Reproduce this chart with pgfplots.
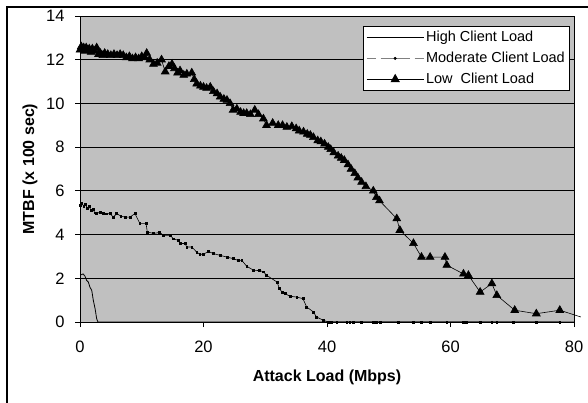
\documentclass[border=0pt]{standalone}
\usepackage{pgfplots}
\pgfplotsset{compat=1.18}
\usepackage{fontspec}
\setmainfont{Liberation Sans}
\definecolor{plotbg}{HTML}{C0C0C0}
\pgfplotsset{
  legHigh/.style={legend image code/.code={\draw[black, line width=0.8pt] (0pt,0pt) -- (57pt,0pt);}},
  legMod/.style={legend image code/.code={\draw[gray, line width=0.8pt, dash pattern=on 9pt off 5pt] (0pt,0pt) -- (23pt,0pt); \draw[gray, line width=0.8pt, dash pattern=on 9pt off 5pt] (34pt,0pt) -- (57pt,0pt); \draw[gray, line width=0.8pt] (23pt,0pt)--(34pt,0pt); \fill[black] (28.5pt,0pt) circle (1.2pt);}},
  legLow/.style={legend image code/.code={\draw[black, line width=0.8pt] (0pt,0pt) -- (57pt,0pt); \fill[black] (24.3pt,-2.5pt) -- (32.7pt,-2.5pt) -- (28.5pt,5pt) -- cycle;}},
}
\begin{document}
\begin{tikzpicture}
\path[use as bounding box] (0pt,0pt) rectangle (588pt,-402pt);
\draw[line width=2.5pt] (7pt,-420pt) -- (7pt,-7pt) -- (620pt,-7pt);
\begin{axis}[
  at={(80pt,-16pt)}, anchor=north west,
  scale only axis, width=494pt, height=306pt,
  xmin=0, xmax=80, ymin=0, ymax=14,
  clip=false,
  axis background/.style={fill=plotbg},
  axis line style={black, line width=0.8pt},
  xtick={0,20,40,60,80}, ytick={0,2,...,14},
  tick align=outside, major tick length=5pt,
  tick style={black, line width=0.8pt},
  xtick pos=bottom, ytick pos=left,
  ymajorgrids, grid style={black, line width=0.8pt},
  /pgf/number format/assume math mode=true,
  ticklabel style={font=\fontsize{16.5}{18}\selectfont},
  xticklabel style={yshift=-10pt},
  yticklabel style={xshift=-7pt},
  xlabel={\textbf{Attack Load (Mbps)}},
  ylabel={\textbf{MTBF (x 100 sec)}},
  xlabel style={font=\fontsize{16}{18}\selectfont, at={(axis description cs:0.5,-0.18)}, anchor=center},
  ylabel style={font=\fontsize{16}{18}\selectfont, at={(axis description cs:-0.101,0.5)}, anchor=center},
  legend style={at={(0.992,0.967)}, anchor=north east, draw=black, line width=0.6pt, fill=white,
    font=\fontsize{14.5}{16}\selectfont, row sep=5pt, inner sep=3pt, cells={anchor=west}},
  legend cell align=left,
]
% High client load
\addplot[black, line width=0.8pt, forget plot] coordinates {
(0,2.14) (0.5,2.2) (0.8,2.1) (1.08,1.9) (1.35,1.83) (1.6,1.6) (1.9,1.45) (2.15,1.0) (2.45,0.6) (2.7,0.15) (2.9,0) (10,0) (20,0) (40,0) (60,0) (80,0)
};
% Moderate client load
\addplot[black, line width=0.6pt, mark=square*, mark size=0.9pt, forget plot] coordinates {
(0,5.34) (0.3,5.42) (0.6,5.3) (0.9,5.38) (1.2,5.2) (1.5,5.28) (1.8,5.1) (2.1,5.15) (2.4,5.0) (2.7,4.96) (3.24,5.03) (3.8,4.98) (4.3,4.95) (4.86,4.96) (5.4,4.8) (5.94,4.96) (6.6,4.85) (7.3,4.8) (8.1,4.8) (8.9,4.96) (9.7,4.5) (10.7,4.5) (10.9,4.12) (11.9,4.05) (12.9,4.1) (13.5,3.97) (14.6,3.97) (15.1,3.81) (15.9,3.74) (16.2,3.59) (17.0,3.59) (17.3,3.43) (18.1,3.43) (18.9,3.2) (19.4,3.1) (20.0,3.1) (20.8,3.23) (21.6,3.13) (22.7,3.05) (23.8,2.97) (24.8,2.9) (25.6,2.82) (26.2,2.82) (27.0,2.55) (28.1,2.37) (29.1,2.35) (29.7,2.3) (30.2,2.14) (31.9,1.83) (32.3,1.53) (32.7,1.37) (33.2,1.3) (34.0,1.18) (35.1,1.14) (36.1,1.07) (36.7,0.69) (37.8,0.46) (38.3,0.23) (39.4,0.08) (40.2,0) (40.7,0) (41.6,0) (43.2,0) (43.7,0) (44.3,0) (45.6,0) (47.5,0) (48.0,0) (48.6,0) (51.5,0) (54.0,0) (55.3,0) (56.7,0) (59.4,0) (62.1,0) (62.6,0) (64.8,0) (66.7,0) (67.5,0) (70.2,0) (73.9,0) (77.7,0)
};
% Low client load
\addplot[black, line width=0.6pt, mark=triangle*, mark size=4.5pt, mark options={solid}, forget plot] coordinates {
(0,12.45) (0.2,12.6) (0.4,12.5) (0.6,12.55) (0.8,12.4) (1.0,12.55) (1.2,12.45) (1.5,12.5) (1.8,12.35) (2.0,12.5) (2.3,12.4) (2.7,12.55) (3.0,12.25) (3.3,12.3) (3.7,12.2) (4.0,12.3) (4.5,12.25) (5.0,12.2) (5.5,12.25) (6.0,12.2) (6.5,12.25) (7.0,12.2) (7.5,12.1) (8.0,12.15) (8.5,12.05) (9.0,12.1) (9.5,12.05) (10.0,12.15) (10.5,12.1) (10.8,12.3) (11.3,12.0) (11.9,11.8) (12.5,11.85) (13.2,12.0) (13.8,11.45) (14.4,11.7) (14.9,11.8) (15.3,11.6) (15.8,11.4) (16.2,11.5) (16.8,11.3) (17.3,11.35) (18.1,11.4) (18.5,11.1) (18.9,10.9) (19.5,10.8) (20.0,10.75) (20.5,10.7) (21.1,10.75) (21.6,10.55) (22.2,10.45) (22.7,10.3) (23.3,10.2) (23.8,10.15) (24.3,10.0) (24.8,9.7) (25.4,9.75) (26.0,9.6) (26.5,9.55) (27.0,9.55) (27.6,9.5) (28.3,9.7) (28.9,9.5) (29.7,9.3) (30.2,9.0) (31.2,9.1) (32.1,9.0) (32.8,9.0) (33.5,8.92) (34.3,8.95) (35.0,8.85) (35.5,8.75) (36.2,8.7) (36.8,8.6) (37.3,8.55) (37.8,8.45) (38.5,8.3) (39.0,8.25) (39.6,8.15) (40.2,8.0) (40.6,7.9) (41.1,7.75) (41.8,7.6) (42.3,7.5) (42.8,7.4) (43.4,7.2) (43.9,7.0) (44.5,6.8) (45.0,6.6) (45.6,6.4) (46.3,6.2) (47.5,6.0) (48.0,5.7) (48.5,5.55) (51.3,4.73) (51.8,4.2) (54.0,3.6) (55.3,2.97) (56.7,2.97) (59.1,2.97) (59.4,2.6) (62.1,2.2) (62.9,2.14) (64.8,1.37) (66.7,1.76) (67.5,1.22) (70.4,0.54) (73.9,0.38) (77.7,0.54)
};
\addplot[black, line width=0.6pt, no marks, forget plot] coordinates {(77.7,0.54) (81.1,0.23)};
% legend entries
\addlegendimage{legHigh}
\addlegendentry{High Client Load}
\addlegendimage{legMod}
\addlegendentry{Moderate Client Load}
\addlegendimage{legLow}
\addlegendentry{Low\ \ Client Load}
\end{axis}
\end{tikzpicture}
\end{document}
